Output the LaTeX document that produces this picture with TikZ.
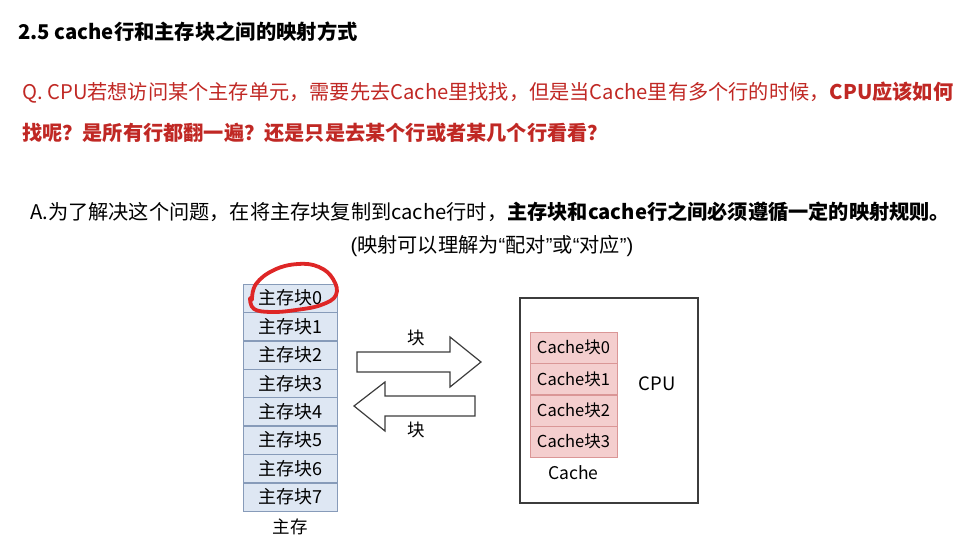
\documentclass[tikz,border=0pt]{standalone}
\usepackage{fontspec}
\setmainfont{Noto Sans CJK SC}
\newfontfamily\latinfont{Liberation Sans}
\usepackage{xcolor}
\usetikzlibrary{arrows.meta, positioning, calc}
\definecolor{qred}{RGB}{192,40,36}
\definecolor{memfill}{RGB}{222,231,243}
\definecolor{memline}{RGB}{135,155,185}
\definecolor{cachefill}{RGB}{244,206,206}
\definecolor{cacheline}{RGB}{218,150,150}
\definecolor{scribble}{RGB}{222,38,38}
\definecolor{boxline}{RGB}{60,60,60}
\newcommand{\latq}[1]{{\latinfont #1}}

\begin{document}
\begin{tikzpicture}[x=1pt, y=-1pt,
    memblk/.style={draw=memline, fill=memfill, minimum width=94pt, minimum height=28pt,
        inner sep=0pt, font=\fontsize{18}{18}\selectfont},
    cacheblk/.style={draw=cacheline, fill=cachefill, minimum width=87pt, minimum height=31pt,
        inner sep=0pt, font=\fontsize{16.5}{17}\selectfont},
    lbl/.style={inner sep=0pt, font=\fontsize{17.5}{18}\selectfont},
    para/.style={inner sep=0pt, anchor=base west, font=\fontsize{20.2}{24}\selectfont}]
    \useasboundingbox (0,0) rectangle (980,556);

    % heading and text
    \node[para, font=\fontsize{20.3}{24}\selectfont\bfseries] (title) at (18,40) {2.5 cache行和主存块之间的映射方式};
    \node[para, text=qred] (q1) at (22,100) {Q. CPU若想访问某个主存单元，需要先去Cache里找找，但是当Cache里有多个行的时候，{\bfseries CPU应该如何}};
    \node[para, text=qred, font=\fontsize{20.2}{24}\selectfont\bfseries] (q2) at (22,141) {找呢？是所有行都翻一遍？还是只是去某个行或者某几个行看看？};
    \node[para] (a1) at (30,220) {A.为了解决这个问题，在将主存块复制到cache行时，{\bfseries 主存块和cache行之间必须遵循一定的映射规则。}};
    \node[para, anchor=base] (a2) at (492,253) {\latq{(}映射可以理解为\latq{“}配对\latq{”}或\latq{“}对应\latq{”)}};

    % main memory
    \node[memblk] (m0) at (290,298) {主存块0};
    \foreach \i [remember=\i as \j (initially 0)] in {1,...,7}
        \node[memblk, below=0pt of m\j] (m\i) {主存块\i};
    \node[lbl, below=8pt of m7] (mem) {主存};

    % red mark
    \draw[scribble, line width=3.8pt, line cap=round] plot[smooth, tension=0.7] coordinates
        {(252,300) (256,284) (274,270) (298,264) (319,267) (333,279) (336,295) (321,305)
         (296,310) (272,312) (254,309) (250,298)};

    % transfer arrows
    \draw[boxline, line width=1.2pt, line join=miter]
        (357,352) -- (450,352) -- (450,337) -- (481,362) -- (450,387) -- (450,372) -- (357,372) -- cycle;
    \draw[boxline, line width=1.2pt, line join=miter]
        (475,396) -- (385,396) -- (385,382) -- (354,406) -- (385,431) -- (385,416) -- (475,416) -- cycle;
    \node[lbl] (blkin) at (416,338) {块};
    \node[lbl] (blkout) at (416,430) {块};

    % cpu with cache
    \node[draw=boxline, line width=1.8pt, minimum width=178pt, minimum height=205pt] (cpu) at (609,400.5) {};
    \node[cacheblk] (c0) at (573.5,347.5) {Cache块0};
    \foreach \i [remember=\i as \j (initially 0)] in {1,...,3}
        \node[cacheblk, below=0pt of c\j] (c\i) {Cache块\i};
    \node[lbl, below=8pt of c3] (cache) {Cache};
    \node[lbl, font=\fontsize{18.5}{18}\selectfont] (cpulbl) at (657,384) {CPU};
\end{tikzpicture}
\end{document}
